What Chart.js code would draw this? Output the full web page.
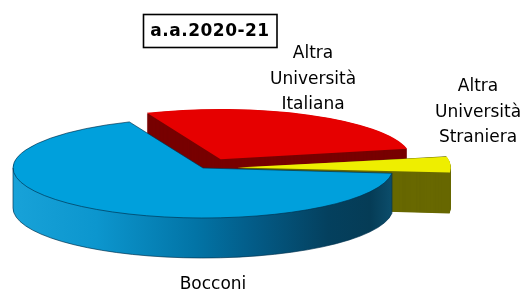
<!DOCTYPE html>
<html><head><meta charset="utf-8">
<script src="https://cdn.jsdelivr.net/npm/chart.js@4"></script>
<style>html,body{margin:0;padding:0;background:#fff;overflow:hidden}canvas{display:block}</style>
</head><body>
<canvas id="c" width="527" height="293"></canvas>
<script>
// ---- data ----
const chartTitle = 'a.a.2020-21';
const categories = ['Altra Università Italiana', 'Altra Università Straniera', 'Bocconi'];
const shares = [28, 5, 67];

// ---- styles ----
const topColors = ['#e60000', '#eeee00', '#00a0dc'];
const sideColors = ['#780000', '#686800', null];
const explode = [80, 72, 0];
const labelPos = [[313, 54], [478, 87], [213, 285]];
const view = { a: 190, b: 50, depth: 40 };
const FONT = '"DejaVu Sans", "Liberation Sans", sans-serif';

function arcGeom(arc) {
  const off = (arc.options.offset || 0) / 4;
  const half = (arc.startAngle + arc.endAngle) / 2;
  const circ = arc.endAngle - arc.startAngle;
  const fix = 1 - Math.sin(Math.min(Math.PI, circ));
  return { x: arc.x + Math.cos(half) * off, y: arc.y + Math.sin(half) * off,
           r: arc.outerRadius + off * fix, s: arc.startAngle, e: arc.endAngle };
}

let baseTransform = null;
function applyView(chart) {
  const ctx = chart.ctx;
  const arcs = chart.getDatasetMeta(0).data;
  const cx = arcs[0].x, cy = arcs[0].y, R = arcs[0].outerRadius;
  const sx = view.a / R, sy = view.b / R;
  ctx.translate(cx, cy); ctx.scale(sx, sy); ctx.translate(-cx, -cy);
  return { cx, cy, R, sx, sy, d: view.depth / sy };
}

const pie3d = {
  id: 'pie3d',
  beforeDatasetsDraw(chart) {
    const ctx = chart.ctx;
    const arcs = chart.getDatasetMeta(0).data;
    baseTransform = ctx.getTransform();
    ctx.save();
    const v = applyView(chart);
    const grad = ctx.createLinearGradient(v.cx - v.R, 0, v.cx + v.R, 0);
    grad.addColorStop(0, 'rgb(24,162,216)');
    grad.addColorStop(0.22, 'rgb(12,150,206)');
    grad.addColorStop(0.48, 'rgb(2,116,166)');
    grad.addColorStop(0.63, 'rgb(3,92,136)');
    grad.addColorStop(0.83, 'rgb(4,64,94)');
    grad.addColorStop(0.94, 'rgb(5,60,86)');
    grad.addColorStop(1, 'rgb(12,78,108)');
    arcs.forEach((arc, i) => {
      const g = arcGeom(arc);
      ctx.fillStyle = sideColors[i] || grad;
      for (let t = v.d; t > 0; t -= 1) {
        ctx.beginPath();
        ctx.moveTo(g.x, g.y + t);
        ctx.arc(g.x, g.y + t, g.r, g.s, g.e);
        ctx.closePath();
        ctx.fill();
      }
    });
  },
  afterDatasetsDraw(chart) {
    const ctx = chart.ctx;
    ctx.restore();
    const arcs = chart.getDatasetMeta(0).data;
    ctx.save();
    const v = applyView(chart);
    const g = arcGeom(arcs[2]);
    ctx.beginPath();
    ctx.moveTo(g.x, g.y);
    ctx.arc(g.x, g.y, g.r, g.s, g.e);
    ctx.closePath();
    const rx = g.x + g.r * Math.cos(g.s), ry = g.y + g.r * Math.sin(g.s);
    ctx.moveTo(rx, ry + v.d);
    ctx.arc(g.x, g.y + v.d, g.r, g.s, Math.PI);
    ctx.lineTo(g.x - g.r, g.y);
    ctx.moveTo(rx, ry);
    ctx.lineTo(rx, ry + v.d);
    ctx.setTransform(baseTransform);
    ctx.strokeStyle = 'rgba(0,50,80,0.85)';
    ctx.lineWidth = 0.8;
    ctx.stroke();
    ctx.restore();
  },
  afterDraw(chart) {
    const ctx = chart.ctx;
    ctx.save();
    ctx.fillStyle = '#000';
    ctx.textAlign = 'center';
    ctx.textBaseline = 'middle';
    ctx.font = '17px ' + FONT;
    categories.forEach((c, i) => {
      const words = c.split(' ');
      words.forEach((w, j) => ctx.fillText(w, labelPos[i][0], labelPos[i][1] + j * 25.5));
    });
    // title box
    ctx.lineWidth = 1.6;
    ctx.strokeStyle = '#000';
    ctx.strokeRect(143.5, 14.5, 133.5, 33);
    ctx.font = 'bold 17px ' + FONT;
    try { ctx.letterSpacing = '0.5px'; } catch (e) {}
    ctx.fillText(chartTitle, 210, 31.5);
    ctx.restore();
  }
};

new Chart(document.getElementById('c'), {
  type: 'pie',
  data: {
    labels: categories,
    datasets: [{ data: shares, backgroundColor: topColors, borderWidth: 0, offset: explode, clip: false }]
  },
  options: {
    responsive: false,
    animation: false,
    events: [],
    rotation: -22.8,
    radius: 100,
    layout: { padding: { left: 0, right: 121, top: 43, bottom: 0 } },
    plugins: { legend: { display: false }, tooltip: { enabled: false }, title: { display: false } }
  },
  plugins: [pie3d]
});
</script>
</body></html>
